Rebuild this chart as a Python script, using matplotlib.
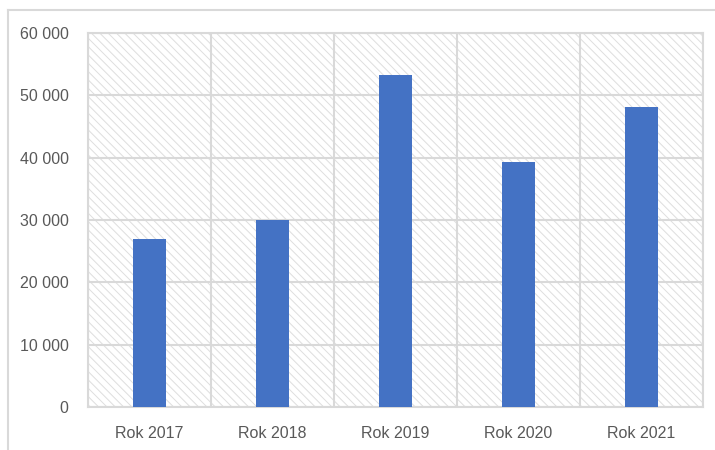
import matplotlib
matplotlib.use("Agg")
import matplotlib.pyplot as plt
from matplotlib.lines import Line2D
from matplotlib.ticker import FuncFormatter

years = ["Rok 2017", "Rok 2018", "Rok 2019", "Rok 2020", "Rok 2021"]
values = [27000, 30000, 53200, 39300, 48200]

grey = "#d9d9d9"
plt.rcParams["font.family"] = ["Liberation Sans", "DejaVu Sans"]
plt.rcParams["hatch.color"] = "#dedede"
plt.rcParams["hatch.linewidth"] = 0.7

fig = plt.figure(figsize=(7.15, 4.5), dpi=100)
ax = fig.add_axes([88 / 715, 1 - 407 / 450, 615 / 715, 374 / 450])

# hatched plot area like the Excel original
ax.patch.set_facecolor("white")
ax.patch.set_hatch("\\\\\\\\")
ax.patch.set_edgecolor("#dedede")

x = range(len(years))
ax.bar(x, values, width=0.27, color="#4472C4", zorder=3)

ax.set_xlim(-0.5, len(years) - 0.5)
ax.set_ylim(0, 60000)
ax.set_yticks(range(0, 60001, 10000))
ax.yaxis.set_major_formatter(FuncFormatter(lambda v, p: f"{int(v):,}".replace(",", " ")))
ax.set_xticks(list(x))
ax.set_xticklabels(years)

# vertical lines between categories
ax.set_xticks([i - 0.5 for i in range(len(years) + 1)], minor=True)
ax.grid(which="minor", axis="x", color=grey, linewidth=1.5, zorder=1)
ax.grid(which="major", axis="y", color=grey, linewidth=1.5, zorder=1)
ax.set_axisbelow(True)

ax.tick_params(axis="both", which="both", length=0, colors="#595959", labelsize=11.5)
ax.tick_params(axis="y", pad=14)
ax.tick_params(axis="x", pad=14)
for s in ax.spines.values():
    s.set_color(grey)
    s.set_linewidth(1.5)

# outer chart border (only top and left visible in the crop)
fig.add_artist(Line2D([8 / 715, 1], [1 - 10 / 450] * 2, transform=fig.transFigure, color=grey, lw=1.5))
fig.add_artist(Line2D([8 / 715] * 2, [0, 1 - 10 / 450], transform=fig.transFigure, color=grey, lw=1.5))

fig.savefig("out.png", dpi=100)
